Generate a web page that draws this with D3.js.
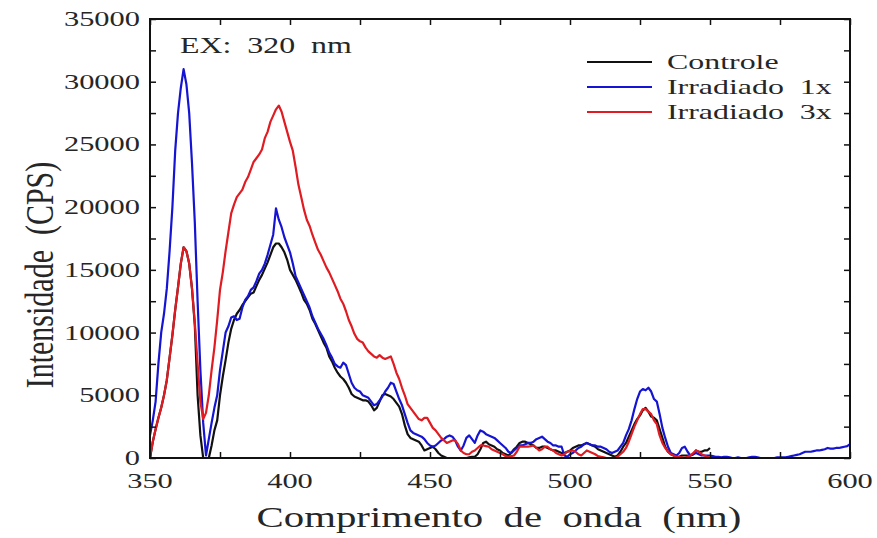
<!DOCTYPE html>
<html><head><meta charset="utf-8">
<script src="https://cdn.jsdelivr.net/npm/d3@7"></script>
<style>body{margin:0;background:#fff}svg{display:block}text{font-family:"Liberation Serif","Times New Roman",serif;fill:#262626;white-space:pre}</style>
</head><body>
<svg id="c" width="877" height="538"></svg>
<script>
const xTicks = [350,375,400,425,450,475,500,525,550,575,600];
const xLabels = [350,400,450,500,550,600];
const yTicks = [0,2500,5000,7500,10000,12500,15000,17500,20000,22500,25000,27500,30000,32500,35000];
const yLabels = [0,5000,10000,15000,20000,25000,30000,35000];
const seriesNames = ["Controle","Irradiado  1x","Irradiado  3x"];
const seriesColors = ["#111111","#1414d2","#e01b22"];
const wlStart = 350;

const controle = [
0,1300,2300,3200,4000,5000,6200,8000,9800,11800,
13600,15500,16800,16500,15500,13500,10600,5000,1800,0,
0,0,1000,2200,3000,5000,6500,7800,9200,10300,
11000,11500,11800,12200,12500,12800,13100,13200,13700,14200,
14600,15100,15600,16200,16800,17100,17100,16800,16400,15800,
15000,14600,14200,13700,13200,12600,12300,11800,11100,10700,
10200,9700,9200,8800,8100,7700,7200,6800,6500,6300,
6000,5600,5100,4900,4800,4700,4600,4600,4500,4200,
3800,4000,4500,5000,5100,5000,4900,4700,4400,4100,
3500,2600,1900,1600,1500,1400,1300,1000,600,700,
800,900,700,400,200,100,0,0,0,0,
0,0,0,0,50,100,100,300,700,1200,
1300,1100,1000,900,700,600,400,300,200,400,
700,900,1200,1300,1300,1200,1100,1000,800,800,
900,900,800,700,600,600,500,400,400,500,
600,800,900,1000,1000,1100,1200,1100,1000,900,
700,600,500,400,300,200,100,200,500,900,
1200,1700,2200,2700,3100,3400,3800,4000,3700,3300,
3200,3000,2300,1600,900,500,300,200,100,100,
200,200,200,200,300,600,500,500,600,600,
800];

const irradiado1x = [
1800,3000,4500,7500,10000,11500,13500,16500,20000,24500,
27500,29500,31000,29800,27500,23500,18800,12500,7000,2800,
200,1500,2800,4000,5000,7000,8500,10000,10500,11200,
11300,11000,11100,12000,12600,12900,13400,13600,14100,14700,
15000,15500,16200,17000,17800,19900,19000,18400,17600,17000,
16400,15500,14500,14000,13500,13000,12500,12000,11300,10800,
10300,9900,9500,9000,8400,8000,7500,7300,7200,7600,
7400,6700,6000,5600,5400,5300,5000,4900,4800,4500,
4200,4300,4600,4900,5300,5600,6000,5900,5300,4700,
4200,3500,2800,2200,2000,1900,1800,1700,1500,1200,
1000,900,1000,1200,1400,1500,1700,1800,1700,1400,
900,600,1000,1600,1800,1500,1200,1800,2200,2100,
1900,1800,1700,1600,1400,1200,1000,800,500,400,
600,800,1000,1000,1100,1200,1200,1300,1500,1600,
1700,1500,1300,1200,1000,1000,900,900,200,100,
300,400,600,800,900,1100,1200,1100,1000,1000,
900,900,800,700,500,400,500,600,900,1200,
1800,2300,3000,3900,4700,5300,5500,5400,5600,5300,
4700,4500,3500,2400,1600,900,400,300,200,400,
800,900,500,200,300,400,300,200,200,200,
200,150,100,100,50,100,100,50,0,0,
50,0,0,0,50,100,100,50,0,0,
0,0,0,0,50,50,50,50,100,150,
200,250,300,400,500,500,500,550,600,600,
650,700,800,750,750,800,800,850,900,950,
1100];

const irradiado3x = [
0,1300,2300,3200,4000,5000,6200,8000,9800,11800,
13600,15500,16800,16500,15500,13500,10800,7500,4500,3100,
3600,5000,7000,8800,11000,13400,14800,16500,18000,19500,
20200,20800,21100,21400,22000,22400,23000,23600,23900,24200,
24600,25500,26000,26800,27300,27800,28100,27600,26800,26000,
25200,24500,23200,21800,20800,19800,19000,18500,17800,17200,
16600,16200,15700,15200,14800,14300,13800,13300,12700,12300,
11700,11000,10500,9900,9500,9300,9200,8800,8500,8300,
8100,8000,8200,8000,7900,8000,8100,7500,6800,6300,
5600,5000,4300,4000,3700,3400,3100,3000,3200,3200,
2800,2400,2200,1900,1600,1400,1200,1300,1400,1400,
1100,600,400,300,300,500,600,800,1000,1000,
950,900,700,600,500,400,300,150,100,150,
200,500,900,900,900,900,950,1000,800,600,
700,900,900,700,600,400,300,200,300,500,
550,600,500,300,200,400,600,500,400,300,
150,100,50,0,0,0,0,100,300,500,
800,1300,1900,2500,3000,3500,3900,3900,3700,3500,
3000,2700,1800,1200,800,500,300,200,100,100,
50,0,100,200,400,600,500,300,200,100,
0];

const SX = 1.45; // wide glyph look of the original font
const L = 150, R = 850, T = 19, B = 458;
const svg = d3.select("#c");
svg.append("rect").attr("width",877).attr("height",538).attr("fill","#fff");

const x = d3.scaleLinear().domain([350,600]).range([L,R]);
const y = d3.scaleLinear().domain([0,35000]).range([B,T]);

const toPts = arr => arr.map((v,i)=>[wlStart+i, v]);
const data = [toPts(controle), toPts(irradiado1x), toPts(irradiado3x)];
const line = d3.line().x(d=>x(d[0])).y(d=>y(d[1]));

svg.append("clipPath").attr("id","cp").append("rect")
  .attr("x",L).attr("y",T).attr("width",R-L).attr("height",B-T);
const plot = svg.append("g").attr("clip-path","url(#cp)");
data.forEach((d,i)=>{
  plot.append("path").datum(d).attr("d",line).attr("fill","none")
    .attr("stroke",seriesColors[i]).attr("stroke-width",2.2).attr("stroke-linejoin","round");
});

function styleAxis(g){ g.select(".domain").remove(); g.selectAll("line").attr("stroke","#111").attr("stroke-width",1.5); }
svg.append("g").attr("transform",`translate(0,${B})`)
  .call(d3.axisBottom(x).tickValues(xTicks).tickSize(-6).tickFormat("")).call(styleAxis);
svg.append("g").attr("transform",`translate(0,${T})`)
  .call(d3.axisTop(x).tickValues(xTicks).tickSize(-6).tickFormat("")).call(styleAxis);
svg.append("g").attr("transform",`translate(${L},0)`)
  .call(d3.axisLeft(y).tickValues(yTicks).tickSize(-6).tickFormat("")).call(styleAxis);
svg.append("g").attr("transform",`translate(${R},0)`)
  .call(d3.axisRight(y).tickValues(yTicks).tickSize(-6).tickFormat("")).call(styleAxis);

svg.append("rect").attr("x",L).attr("y",T).attr("width",R-L).attr("height",B-T)
  .attr("fill","none").attr("stroke","#111").attr("stroke-width",2);

function wideText(px,py,str,size,anchor,sx){
  return svg.append("text").attr("transform",`translate(${px},${py}) scale(${sx||SX},1)`)
    .attr("text-anchor",anchor||"start").attr("font-size",size).attr("xml:space","preserve").text(str);
}
xLabels.forEach(v=>wideText(x(v), B+30, String(v), 21, "middle"));
yLabels.forEach(v=>wideText(L-10, y(v)+7, String(v), 21, "end"));

wideText((L+R)/2-1, 527, "Comprimento  de  onda  (nm)", 30, "middle", 1.36);
svg.append("text").attr("transform",`translate(53,275) rotate(-90) scale(1.0,1.3)`)
  .attr("text-anchor","middle").attr("font-size",30).attr("xml:space","preserve").text("Intensidade  (CPS)");

wideText(180, 53, "EX:  320  nm", 24, "start", 1.33);

const legY = [62,87,112];
seriesNames.forEach((n,i)=>{
  svg.append("line").attr("x1",587).attr("x2",652).attr("y1",legY[i]).attr("y2",legY[i])
    .attr("stroke",seriesColors[i]).attr("stroke-width",2.2);
  wideText(667, legY[i]+7, n, 22, "start", 1.45);
});
</script>
</body></html>
